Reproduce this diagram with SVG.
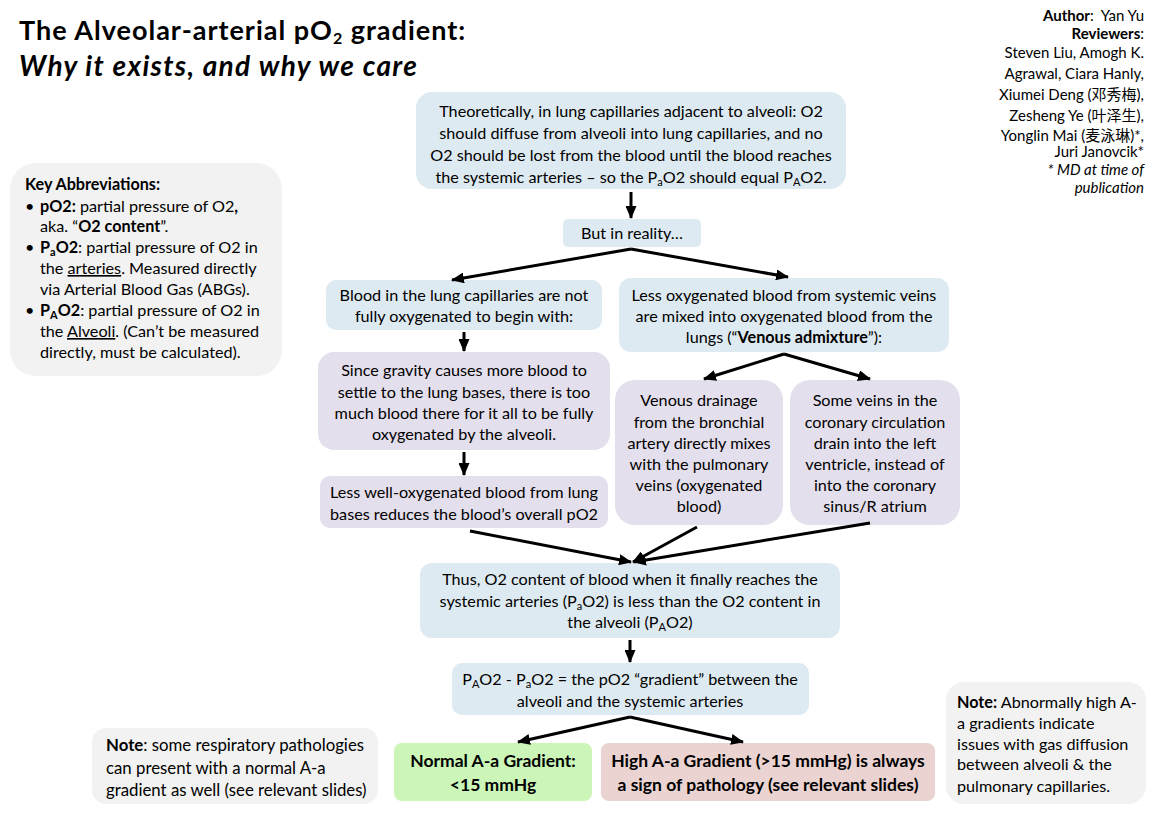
<svg xmlns="http://www.w3.org/2000/svg" width="1156" height="825" viewBox="0 0 1156 825">
<defs>
<style>
text{font-family:Lato,"Noto Sans","Noto Sans CJK SC",sans-serif;fill:#000}
.t{font-size:16.2px}
.c{text-anchor:middle}
.r{text-anchor:end}
.b{font-weight:bold}
.bb{font-weight:bold;font-size:17.5px}
.s{font-size:11px}
.ttl{font-weight:bold;font-size:27px;letter-spacing:1px}
.ttl2{font-weight:bold;font-style:italic;font-size:28px;letter-spacing:1.3px}
.blue{fill:#deeaf1}
.purple{fill:#e4dfec}
.gray{fill:#f2f2f2}
.green{fill:#ccf6b8}
.pink{fill:#ead3d1}
.ar{stroke:#000;stroke-width:3;fill:none;marker-end:url(#ah)}
</style>
<marker id="ah" markerUnits="userSpaceOnUse" markerWidth="13" markerHeight="11" refX="12" refY="5.5" orient="auto">
<path d="M0,0 L13,5.5 L0,11 z" fill="#000"/>
</marker>
</defs>
<rect width="1156" height="825" fill="#fff"/>

<g id="title">
<text x="19" y="40" class="ttl">The Alveolar-arterial pO<tspan baseline-shift="-4" font-size="16">2</tspan> gradient:</text>
<text x="19" y="76" class="ttl2">Why it exists, and why we care</text>
</g>

<g id="authors">
<text x="1144" y="21" class="r" font-size="15" xml:space="preserve"><tspan class="b">Author</tspan>:  Yan Yu</text>
<text x="1144" y="39" class="r" font-size="15"><tspan class="b">Reviewers</tspan>:</text>
<text x="1144" y="58" class="r" font-size="15">Steven Liu, Amogh K.</text>
<text x="1144" y="79" class="r" font-size="15">Agrawal, Ciara Hanly,</text>
<text x="1144" y="100" class="r" font-size="15">Xiumei Deng (邓秀梅),</text>
<text x="1144" y="121" class="r" font-size="15">Zesheng Ye (叶泽生),</text>
<text x="1144" y="141" class="r" font-size="15">Yonglin Mai (麦泳琳)*,</text>
<text x="1144" y="157" class="r" font-size="15">Juri Janovcik*</text>
<text x="1144" y="175" class="r" font-size="15" font-style="italic">* MD at time of</text>
<text x="1144" y="193" class="r" font-size="15" font-style="italic">publication</text>
</g>

<g id="abbrev">
<rect x="10" y="163" width="272" height="213" rx="26" class="gray"/>
<text x="25" y="190" class="t b">Key Abbreviations:</text>
<text x="25" y="212" class="t">•</text>
<text x="40" y="212" class="t"><tspan class="b">pO2:</tspan> partial pressure of O2<tspan class="b">,</tspan></text>
<text x="40" y="232" class="t">aka. “<tspan class="b">O2 content</tspan>”.</text>
<text x="25" y="253" class="t">•</text>
<text x="40" y="253" class="t"><tspan class="b">P<tspan baseline-shift="-3" class="s">a</tspan>O2</tspan>: partial pressure of O2 in</text>
<text x="40" y="274" class="t">the <tspan text-decoration="underline">arteries</tspan>. Measured directly</text>
<text x="40" y="295" class="t">via Arterial Blood Gas (ABGs).</text>
<text x="25" y="316" class="t">•</text>
<text x="40" y="316" class="t"><tspan class="b">P<tspan baseline-shift="-3" class="s">A</tspan>O2</tspan>: partial pressure of O2 in</text>
<text x="40" y="337" class="t">the <tspan text-decoration="underline">Alveoli</tspan>. (Can’t be measured</text>
<text x="40" y="358" class="t">directly, must be calculated).</text>
</g>

<g id="theory">
<rect x="416" y="92" width="430" height="97" rx="16" class="blue"/>
<text x="631" y="117" class="t c">Theoretically, in lung capillaries adjacent to alveoli: O2</text>
<text x="631" y="139" class="t c">should diffuse from alveoli into lung capillaries, and no</text>
<text x="631" y="161" class="t c">O2 should be lost from the blood until the blood reaches</text>
<text x="631" y="183" class="t c">the systemic arteries – so the P<tspan baseline-shift="-3" class="s">a</tspan>O2 should equal P<tspan baseline-shift="-3" class="s">A</tspan>O2.</text>
</g>

<g id="reality">
<rect x="563" y="219" width="138" height="28" rx="5" class="blue"/>
<text x="632" y="239" class="t c">But in reality…</text>
</g>

<g id="notfully">
<rect x="326" y="280" width="276" height="50" rx="10" class="blue"/>
<text x="464" y="301" class="t c">Blood in the lung capillaries are not</text>
<text x="464" y="322" class="t c">fully oxygenated to begin with:</text>
</g>

<g id="admixture">
<rect x="619" y="278" width="330" height="74" rx="12" class="blue"/>
<text x="784" y="301" class="t c">Less oxygenated blood from systemic veins</text>
<text x="784" y="322" class="t c">are mixed into oxygenated blood from the</text>
<text x="784" y="343" class="t c">lungs (“<tspan class="b">Venous admixture</tspan>”):</text>
</g>

<g id="gravity">
<rect x="318" y="352" width="292" height="98" rx="16" class="purple"/>
<text x="464" y="376" class="t c">Since gravity causes more blood to</text>
<text x="464" y="398" class="t c">settle to the lung bases, there is too</text>
<text x="464" y="419" class="t c">much blood there for it all to be fully</text>
<text x="464" y="440" class="t c">oxygenated by the alveoli.</text>
</g>

<g id="lesswell">
<rect x="320" y="476" width="288" height="52" rx="10" class="purple"/>
<text x="464" y="498" class="t c">Less well-oxygenated blood from lung</text>
<text x="464" y="520" class="t c">bases reduces the blood’s overall pO2</text>
</g>

<g id="bronchial">
<rect x="615" y="380" width="168" height="145" rx="20" class="purple"/>
<text x="699" y="406" class="t c">Venous drainage</text>
<text x="699" y="428" class="t c">from the bronchial</text>
<text x="699" y="449" class="t c">artery directly mixes</text>
<text x="699" y="470" class="t c">with the pulmonary</text>
<text x="699" y="491" class="t c">veins (oxygenated</text>
<text x="699" y="512" class="t c">blood)</text>
</g>

<g id="coronary">
<rect x="790" y="380" width="170" height="145" rx="20" class="purple"/>
<text x="875" y="406" class="t c">Some veins in the</text>
<text x="875" y="428" class="t c">coronary circulation</text>
<text x="875" y="449" class="t c">drain into the left</text>
<text x="875" y="470" class="t c">ventricle, instead of</text>
<text x="875" y="491" class="t c">into the coronary</text>
<text x="875" y="512" class="t c">sinus/R atrium</text>
</g>

<g id="thus">
<rect x="420" y="563" width="420" height="75" rx="12" class="blue"/>
<text x="630" y="585" class="t c">Thus, O2 content of blood when it finally reaches the</text>
<text x="630" y="607" class="t c">systemic arteries (P<tspan baseline-shift="-3" class="s">a</tspan>O2) is less than the O2 content in</text>
<text x="630" y="628" class="t c">the alveoli (P<tspan baseline-shift="-3" class="s">A</tspan>O2)</text>
</g>

<g id="gradient">
<rect x="452" y="663" width="357" height="52" rx="10" class="blue"/>
<text x="630" y="685" class="t c">P<tspan baseline-shift="-3" class="s">A</tspan>O2 - P<tspan baseline-shift="-3" class="s">a</tspan>O2 = the pO2 “gradient” between the</text>
<text x="630" y="707" class="t c">alveoli and the systemic arteries</text>
</g>

<g id="normal">
<rect x="394" y="743" width="198" height="58" rx="8" class="green"/>
<text x="493" y="767" class="bb c">Normal A-a Gradient:</text>
<text x="493" y="791" class="bb c">&lt;15 mmHg</text>
</g>

<g id="high">
<rect x="601" y="743" width="334" height="58" rx="8" class="pink"/>
<text x="768" y="767" class="bb c">High A-a Gradient (&gt;15 mmHg) is always</text>
<text x="768" y="791" class="bb c">a sign of pathology (see relevant slides)</text>
</g>

<g id="note-left">
<rect x="92" y="728" width="286" height="76" rx="14" class="gray"/>
<text x="106" y="751" font-size="16.8"><tspan class="b">Note</tspan>: some respiratory pathologies</text>
<text x="106" y="774" font-size="16.8">can present with a normal A-a</text>
<text x="106" y="796" font-size="16.8">gradient as well (see relevant slides)</text>
</g>

<g id="note-right">
<rect x="946" y="682" width="200" height="122" rx="18" class="gray"/>
<text x="957" y="708" class="t"><tspan class="b">Note:</tspan> Abnormally high A-</text>
<text x="957" y="729" class="t">a gradients indicate</text>
<text x="957" y="750" class="t">issues with gas diffusion</text>
<text x="957" y="770" class="t">between alveoli &amp; the</text>
<text x="957" y="792" class="t">pulmonary capillaries.</text>
</g>

<g id="connectors">
<line x1="631" y1="192" x2="631" y2="218" class="ar"/>
<line x1="631" y1="249" x2="452" y2="280" class="ar"/>
<line x1="631" y1="249" x2="788" y2="277" class="ar"/>
<line x1="464" y1="332" x2="464" y2="351" class="ar"/>
<line x1="464" y1="452" x2="464" y2="475" class="ar"/>
<line x1="784" y1="354" x2="704" y2="379" class="ar"/>
<line x1="784" y1="354" x2="870" y2="379" class="ar"/>
<line x1="470" y1="531" x2="631" y2="562" class="ar"/>
<line x1="697" y1="527" x2="633" y2="562" class="ar"/>
<line x1="870" y1="523" x2="634" y2="562" class="ar"/>
<line x1="630" y1="640" x2="630" y2="662" class="ar"/>
<line x1="630" y1="717" x2="518" y2="742" class="ar"/>
<line x1="630" y1="717" x2="743" y2="742" class="ar"/>
</g>
</svg>
